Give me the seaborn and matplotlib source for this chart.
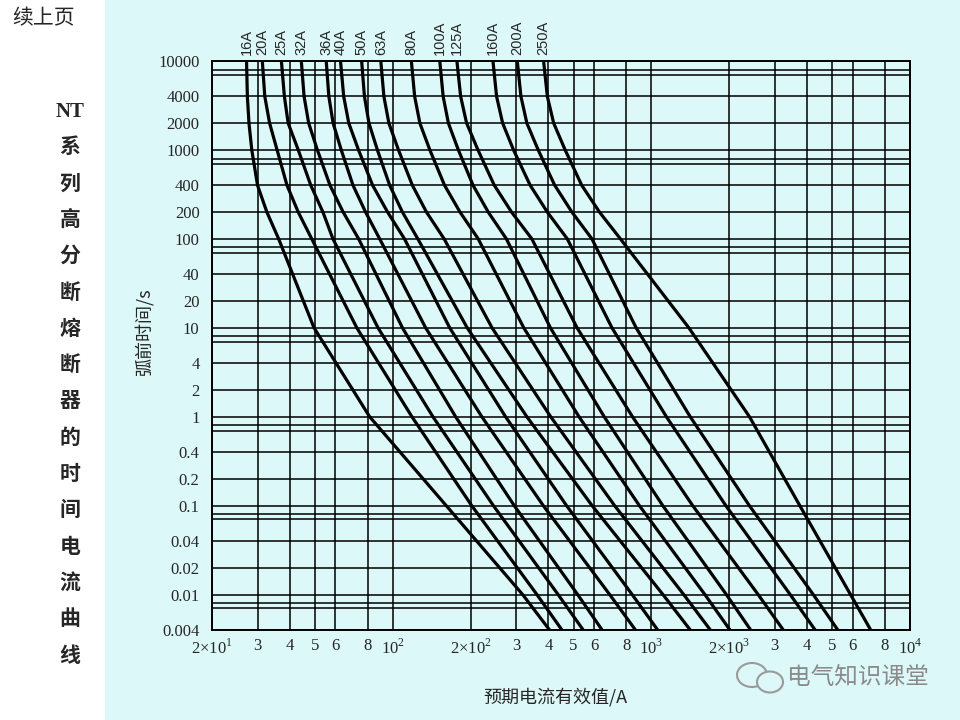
import numpy as np
import pandas as pd
import matplotlib.pyplot as plt
import matplotlib.patches as mpatches
import seaborn as sns

# pre-arcing time (s) at which each curve was read
times = [10000, 4000, 2000, 1000, 400, 200, 100, 10, 1, 0.1, 0.01, 0.004]

fuse_labels = ['16A', '20A', '25A', '32A', '36A', '40A', '50A', '63A',
               '80A', '100A', '125A', '160A', '200A', '250A']

# prospective current (A) at the times above
i_16a = [27.2, 27.4, 27.8, 28.5, 30.0, 32.6, 36.2, 49.6, 81.4, 161, 318, 404]
i_20a = [31.3, 32.0, 33.4, 35.7, 39.0, 43.1, 48.6, 72.6, 118.6, 202, 361, 451]
i_25a = [37.1, 38.1, 39.4, 43.1, 48.2, 53.7, 58.7, 87.7, 143, 245, 436, 545]
i_32a = [44.3, 45.4, 47.3, 51.1, 57.2, 64.3, 73.8, 109, 175, 295, 519, 645]
i_36a = [55.3, 56.6, 58.8, 63.2, 70.2, 78.5, 89, 134, 221, 382, 690, 868]
i_40a = [62.8, 64.6, 67.6, 73.7, 83.6, 95.5, 111, 166, 273, 470, 843, 1058]
i_50a = [75.8, 77.7, 80.9, 87.2, 97.3, 109, 125, 194, 330, 590, 1109, 1414]
i_63a = [89.9, 92.4, 96.6, 105.2, 119.1, 135, 158, 242, 408, 721, 1334, 1691]
i_80a = [118, 121.5, 127.3, 139.1, 158.6, 182, 214, 321, 525, 899, 1611, 2013]
i_100a = [152, 156.6, 164.1, 179.3, 204.4, 234, 275, 407, 657, 1107, 1950, 2421]
i_125a = [177, 183, 193, 213.5, 247, 288, 345, 516, 845, 1445, 2588, 3237]
i_160a = [244, 252, 266, 293, 340, 396, 473, 704, 1143, 1941, 3443, 4298]
i_200a = [303, 313, 330, 365, 423, 493, 589, 873, 1413, 2393, 4227, 5260]
i_250a = [383, 396, 419, 464, 538, 630, 759, 1396, 2395, 3750, 5890, 7050]

curves = [i_16a, i_20a, i_25a, i_32a, i_36a, i_40a, i_50a, i_63a,
          i_80a, i_100a, i_125a, i_160a, i_200a, i_250a]

y_ticks = [10000, 4000, 2000, 1000, 400, 200, 100, 40, 20, 10, 4, 2, 1,
           0.4, 0.2, 0.1, 0.04, 0.02, 0.01, 0.004]
y_ticklabels = ['10000', '4000', '2000', '1000', '400', '200', '100', '40',
                '20', '10', '4', '2', '1', '0.4', '0.2', '0.1', '0.04',
                '0.02', '0.01', '0.004']
y_minor = [8000, 7000, 800, 700, 80, 70, 8, 7, 0.8, 0.7, 0.08, 0.07,
           0.008, 0.007]

x_ticks = [20, 30, 40, 50, 60, 80, 100, 200, 300, 400, 500, 600, 800, 1000,
           2000, 3000, 4000, 5000, 6000, 8000, 10000]
x_ticklabels = ['2×10$^{1}$', '3', '4', '5', '6', '8', '10$^{2}$',
                '2×10$^{2}$', '3', '4', '5', '6', '8', '10$^{3}$',
                '2×10$^{3}$', '3', '4', '5', '6', '8', '10$^{4}$']

title_chars = ['NT', '系', '列', '高', '分', '断', '熔', '断', '器', '的',
               '时', '间', '电', '流', '曲', '线']

rows = []
for lab, cur in zip(fuse_labels, curves):
    for t, i in zip(times, cur):
        rows.append({'fuse': lab, 'I': i, 't': t})
df = pd.DataFrame(rows)

sns.set_theme(style='white')
plt.rcParams['font.family'] = ['Liberation Serif', 'Noto Sans CJK SC', 'DejaVu Sans']
plt.rcParams['mathtext.fontset'] = 'custom'
plt.rcParams['mathtext.rm'] = 'Liberation Serif'

bg = '#ddf8f8'
cjk = ['Noto Sans CJK SC', 'DejaVu Sans']
fig = plt.figure(figsize=(9.6, 7.2), dpi=100, facecolor=bg)
fig.patches.append(mpatches.Rectangle((0, 0), 105 / 960, 1, transform=fig.transFigure,
                                      facecolor='white', edgecolor='none', zorder=-1))

ax = fig.add_axes([212 / 960, 90 / 720, 698 / 960, 569 / 720])
ax.set_facecolor(bg)
ax.set_xscale('log')
ax.set_yscale('log')

sns.lineplot(data=df, x='I', y='t', units='fuse', estimator=None, sort=False,
             color='black', linewidth=2.3, ax=ax, legend=False)

ax.set_xlim(20, 10000)
ax.set_ylim(0.004, 10000)

ax.set_yticks(y_ticks)
ax.set_yticklabels(y_ticklabels, fontsize=12)
ax.set_yticks(y_minor, minor=True)
ax.set_xticks(x_ticks)
ax.set_xticklabels(x_ticklabels, fontsize=12)
ax.set_xticks([], minor=True)
ax.tick_params(axis='both', which='both', length=0)
ax.tick_params(axis='y', pad=9)
ax.tick_params(axis='x', pad=6)
ax.grid(True, which='both', color='black', linewidth=1.1)
for s in ax.spines.values():
    s.set_color('black')
    s.set_linewidth(1.4)
ax.set_xlabel('')
ax.set_ylabel('')

# current rating labels above each curve top
for lab, cur in zip(fuse_labels, curves):
    ax.text(cur[0], 1.01, lab, transform=ax.get_xaxis_transform(), rotation=90,
            ha='center', va='bottom', fontsize=10.5, family='Liberation Sans')

fig.text(144 / 960, 1 - 332 / 720, '弧前时间/s', rotation=90, ha='center', va='center',
         fontsize=13, family=cjk)
fig.text(555 / 960, 1 - 697 / 720, '预期电流有效值/A', ha='center', va='center',
         fontsize=13, family=cjk)

fig.text(12 / 960, 1 - 18 / 720, '续上页', ha='left', va='center', fontsize=15,
         family=cjk)
for k, ch in enumerate(title_chars):
    fig.text(70 / 960, 1 - (112 + 36.3 * k) / 720, ch, ha='center', va='center',
             fontsize=15, fontweight='bold',
             family=['Liberation Serif', 'Noto Sans CJK SC', 'DejaVu Sans'])

# watermark
for cx, cy, w, h in [(752, 675, 30, 24), (770, 682, 26, 21)]:
    fig.patches.append(mpatches.Ellipse((cx / 960, 1 - cy / 720), w / 960, h / 720,
                                        transform=fig.transFigure, facecolor=bg,
                                        edgecolor='#9a9a9a', linewidth=1.5))
fig.text(858 / 960, 1 - 678 / 720, '电气知识课堂', ha='center', va='center',
         fontsize=17, color='#8a8a8a', family=cjk)

fig.savefig('out.png', dpi=100, facecolor=bg)
